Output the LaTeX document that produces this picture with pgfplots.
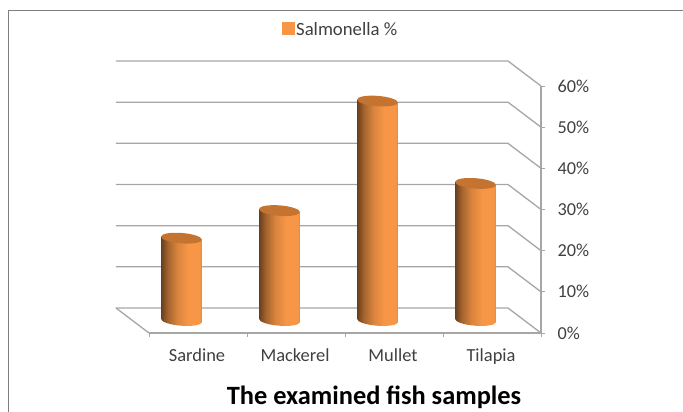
\documentclass[border=0pt]{standalone}
\usepackage{pgfplots}
\usepackage{pgfplotstable}
\usepackage{fontspec}
\setmainfont{Carlito}
\pgfplotsset{compat=1.18}

\definecolor{gridgray}{HTML}{A6A6A6}
\definecolor{framegray}{HTML}{7F7F7F}
\definecolor{labelgray}{HTML}{404040}
\definecolor{barorange}{HTML}{F79646}
\definecolor{captop}{HTML}{C47430}

% Cylinder surface, dark on the left and bright towards the right
\pgfdeclarehorizontalshading{cylinder}{100bp}{
  color(0bp)=(black!58!barorange);
  color(25bp)=(black!58!barorange);
  color(33bp)=(black!34!barorange);
  color(45bp)=(black!12!barorange);
  color(58bp)=(barorange);
  color(72bp)=(barorange);
  color(75bp)=(black!8!barorange);
  color(100bp)=(black!8!barorange)}

% Top face of a cylinder
\pgfdeclareplotmark{captop}{%
  \pgfpathellipse{\pgfpointorigin}{\pgfqpoint{20.4bp}{-1.6bp}}{\pgfqpoint{0.4bp}{5.2bp}}%
  \pgfsetfillcolor{captop}%
  \pgfusepathqfill}
% Rounded foot of a cylinder
\pgfdeclareplotmark{capfoot}{%
  \pgfpathellipse{\pgfpointorigin}{\pgfqpoint{20.4bp}{-1.6bp}}{\pgfqpoint{0.4bp}{5.2bp}}%
  \pgfshadepath{cylinder}{0}%
  \pgfusepath{discard}}

\pgfplotstableread{
pos value
0.5 20
1.5 26.7
2.5 53.3
3.5 33.3
}\fishdata

\begin{document}
\begin{tikzpicture}[x=1bp,y=1bp]
\path[use as bounding box] (0,0) rectangle (683,411);
\draw[framegray,line width=1.3bp] (8.5,-5) -- (8.5,400.5) -- (690,400.5);
\begin{axis}[
  at={(149bp,78bp)}, anchor=south west,
  scale only axis, width=392bp, height=247bp,
  xmin=0, xmax=4, ymin=0, ymax=60,
  clip=false,
  axis x line*=bottom, axis y line*=right,
  axis line style={gridgray,line width=1.3bp},
  major tick style={gridgray,line width=1bp},
  tick align=outside, major tick length=4bp,
  xtick={0,1,2,3,4}, xticklabels={},
  extra x ticks={0.5,1.5,2.5,3.5},
  extra x tick labels={Sardine,Mackerel,Mullet,Tilapia},
  extra x tick style={major tick length=0pt, tick style={draw=none}},
  xticklabel style={font=\fontsize{18.5}{22}\selectfont, text=labelgray, yshift=-12bp, xshift=-1bp},
  ytick={0,10,20,30,40,50,60},
  yticklabels={0\%,10\%,20\%,30\%,40\%,50\%,60\%},
  yticklabel style={font=\fontsize{18.3}{22}\selectfont, text=labelgray, anchor=west, xshift=9bp},
  xlabel={The examined fish samples},
  xlabel style={at={(axis description cs:0.574,-0.26)}, anchor=center,
                font=\bfseries\fontsize{26.5}{30}\selectfont, text=black},
  legend style={at={(rel axis cs:0.34,1.226)}, anchor=west, draw=none, fill=none,
                font=\fontsize{18.8}{22}\selectfont, text=labelgray,
                inner sep=0pt, outer sep=0pt},
  legend image code/.code={\fill[barorange] (0bp,-16.5bp) rectangle (11.5bp,-5bp);},
  deep/.style={xshift=-16.5bp, yshift=12.5bp},
]
% Back wall grid lines, running round to the value axis
\pgfplotsinvokeforeach{0,10,20,30,40,50,60}{
  \addplot[forget plot, gridgray, line width=1.3bp]
    coordinates {(-0.337,#1+6.07) (3.663,#1+6.07) (4,#1)};
}
% Left edge of the floor
\addplot[forget plot, gridgray, line width=1.3bp] coordinates {(-0.337,6.07) (0,0)};

% Cylinders stand half way into the depth of the floor
\addplot[forget plot, deep, only marks, mark=capfoot] table[x=pos, y expr=0] {\fishdata};
\addplot[forget plot, deep, draw=none, shading=cylinder] coordinates {(0.292,0.39) (0.708,-0.39) (0.708,19.61) (0.292,20.39)} -- cycle;
\addplot[forget plot, deep, draw=none, shading=cylinder] coordinates {(1.292,0.39) (1.708,-0.39) (1.708,26.31) (1.292,27.09)} -- cycle;
\addplot[forget plot, deep, draw=none, shading=cylinder] coordinates {(2.292,0.39) (2.708,-0.39) (2.708,52.91) (2.292,53.69)} -- cycle;
\addplot[forget plot, deep, draw=none, shading=cylinder] coordinates {(3.292,0.39) (3.708,-0.39) (3.708,32.91) (3.292,33.69)} -- cycle;
\addplot[deep, only marks, mark=captop] table[x=pos, y=value] {\fishdata};
\addlegendentry{Salmonella \%}
\end{axis}
\end{tikzpicture}
\end{document}
